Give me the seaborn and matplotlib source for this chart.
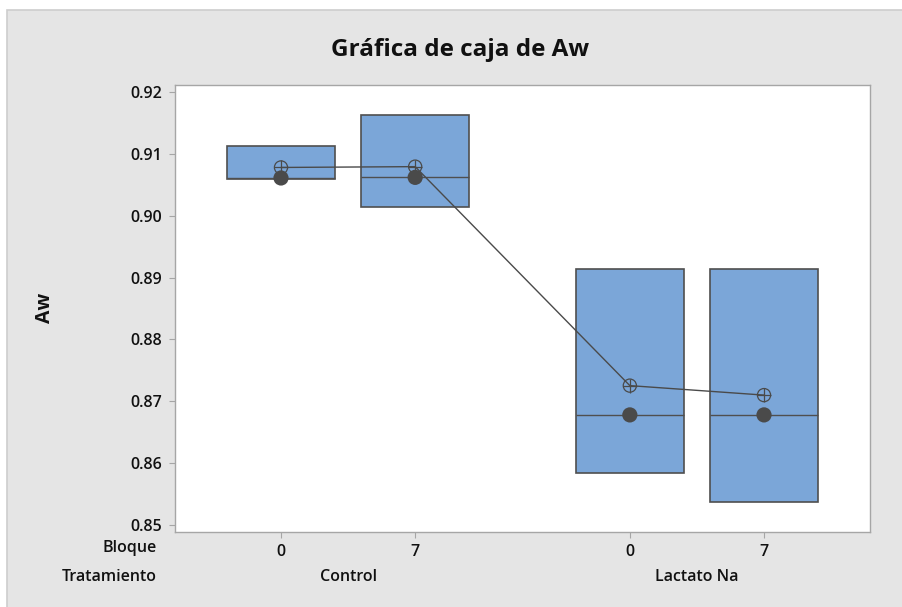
import numpy as np
import pandas as pd
import matplotlib
matplotlib.use("Agg")
import matplotlib.pyplot as plt
import seaborn as sns
from matplotlib.patches import Rectangle
from matplotlib.ticker import FormatStrFormatter

# Aw readings per treatment/block (three replicates each)
tratamiento = ["Control", "Control", "Lactato Na", "Lactato Na"]
bloque = ["0", "7", "0", "7"]
aw_rep1 = [0.9060, 0.9014, 0.8584, 0.8538]
aw_rep2 = [0.9061, 0.9062, 0.8678, 0.8678]
aw_rep3 = [0.9113, 0.9162, 0.8914, 0.8914]
y_ticks = [0.85, 0.86, 0.87, 0.88, 0.89, 0.90, 0.91, 0.92]

# horizontal layout: groups separated by a wider gap
x_pos = [0.0, 1.0, 2.6, 3.6]

sns.set_style("white")
plt.rcParams["font.family"] = ["Open Sans", "DejaVu Sans"]

rows = []
for i, (t, b) in enumerate(zip(tratamiento, bloque)):
    for v in (aw_rep1[i], aw_rep2[i], aw_rep3[i]):
        rows.append({"Tratamiento": t, "Bloque": b, "pos": x_pos[i], "Aw": v})
df = pd.DataFrame(rows)

# Minitab-style quartiles ((n+1)p positions)
stats = []
summary = []
for i, p in enumerate(x_pos):
    vals = df.loc[df["pos"] == p, "Aw"].to_numpy()
    q1 = np.percentile(vals, 25, method="weibull")
    q3 = np.percentile(vals, 75, method="weibull")
    med = np.median(vals)
    stats.append(dict(med=med, q1=q1, q3=q3, whislo=q1, whishi=q3, fliers=[]))
    summary.append({"pos": p, "mean": vals.mean(), "median": med})
summ = pd.DataFrame(summary)

fig = plt.figure(figsize=(9.02, 6.07), dpi=100)
fig.patch.set_facecolor("white")
fig.patches.append(Rectangle((7 / 902, -0.01), 1.0, 1 - 10 / 607 + 0.01,
                             transform=fig.transFigure, facecolor="#E5E5E5",
                             edgecolor="#CDCDCD", linewidth=1.2, zorder=-10))

ax = fig.add_axes([175 / 902, 1 - 532 / 607, (870 - 175) / 902, (532 - 85) / 607])
ax.set_facecolor("white")

edge = "#4F4F4F"
ax.bxp(stats, positions=x_pos, widths=0.8, patch_artist=True,
       showfliers=False, showcaps=False,
       boxprops=dict(facecolor="#7BA6D8", edgecolor=edge, linewidth=1.2),
       medianprops=dict(color=edge, linewidth=1.0),
       whiskerprops=dict(linewidth=0))

# connected means, median dots and mean symbols
sns.lineplot(data=summ, x="pos", y="mean", color="#4A4A4A", linewidth=1.0,
             ax=ax, zorder=4, legend=False)
sns.scatterplot(data=summ, x="pos", y="median", color="#4A4A4A", s=120,
                edgecolor="none", ax=ax, zorder=5, legend=False)
sns.scatterplot(data=summ, x="pos", y="mean", facecolor="none", edgecolor="#4A4A4A",
                s=90, linewidth=0.9, ax=ax, zorder=6, legend=False)
sns.scatterplot(data=summ, x="pos", y="mean", marker="+", color="#4A4A4A",
                s=90, linewidth=0.9, ax=ax, zorder=6, legend=False)

ax.set_xlim(-0.79, 4.39)
ax.set_ylim(0.84887, 0.92113)
ax.set_yticks(y_ticks)
ax.yaxis.set_major_formatter(FormatStrFormatter("%.2f"))
ax.set_xticks(x_pos, bloque)
ax.set_xlabel("")
ax.set_ylabel("")
for s in ax.spines.values():
    s.set_color("#A6A6A6")
    s.set_linewidth(1.0)
ax.tick_params(axis="both", which="major", length=4, width=0.8, color="#A6A6A6",
               labelsize=11.5, labelcolor="#111111", pad=5, left=True, bottom=True)
for lab in ax.get_xticklabels() + ax.get_yticklabels():
    lab.set_fontweight("semibold")

# treatment labels under each pair of blocks
for t in ["Control", "Lactato Na"]:
    xs = [p for p, tt in zip(x_pos, tratamiento) if tt == t]
    ax.text(np.mean(xs), -0.1007, t, transform=ax.get_xaxis_transform(),
            ha="center", va="center", fontsize=11.5, fontweight="semibold", color="#111111")

fig.text(157 / 902, 1 - 548 / 607, "Bloque", ha="right", va="center",
         fontsize=11.5, fontweight="semibold", color="#111111")
fig.text(157 / 902, 1 - 577 / 607, "Tratamiento", ha="right", va="center",
         fontsize=11.5, fontweight="semibold", color="#111111")
fig.text(45 / 902, 1 - 308 / 607, "Aw", rotation=90, ha="center", va="center",
         fontsize=14, fontweight="bold", color="#111111")
fig.text(460 / 902, 1 - 50 / 607, "Gráfica de caja de Aw", ha="center", va="center",
         fontsize=17.5, fontweight="bold", color="#111111")

fig.savefig("out.png", dpi=100)
